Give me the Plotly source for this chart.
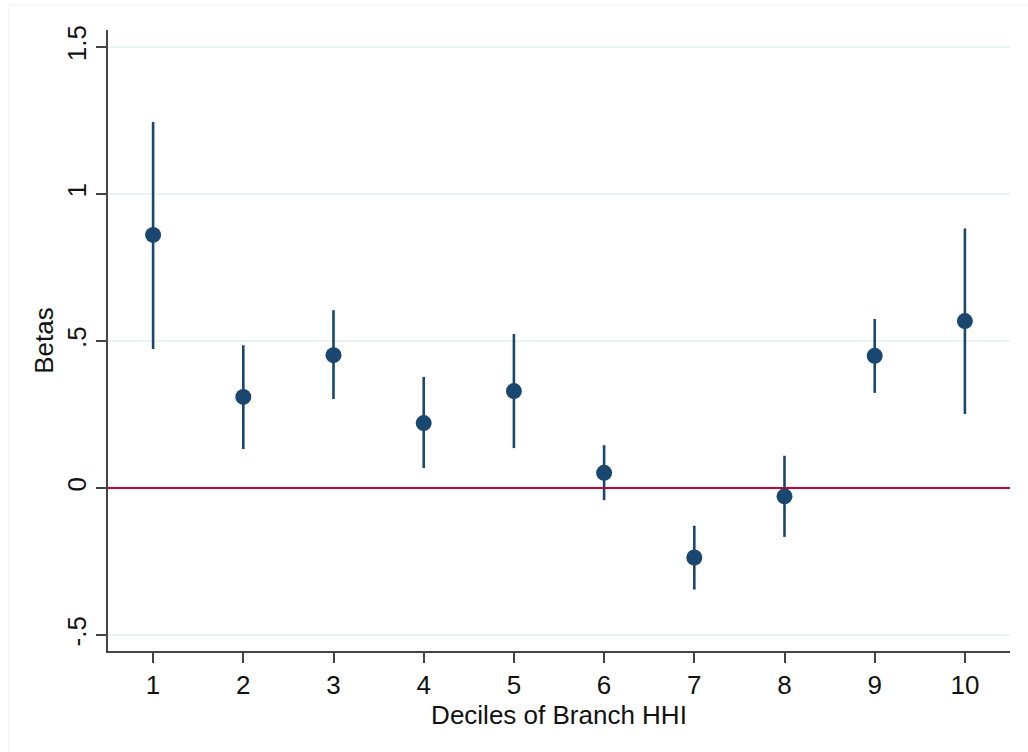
import plotly.graph_objects as go

deciles = [1, 2, 3, 4, 5, 6, 7, 8, 9, 10]
betas = [0.861, 0.310, 0.452, 0.221, 0.330, 0.052, -0.236, -0.028, 0.450, 0.568]
ci_upper = [1.245, 0.486, 0.605, 0.378, 0.524, 0.146, -0.128, 0.110, 0.575, 0.883]
ci_lower = [0.473, 0.133, 0.303, 0.068, 0.136, -0.041, -0.345, -0.166, 0.324, 0.252]

y_tickvals = [-0.5, 0, 0.5, 1, 1.5]
y_ticktext = ["-.5", "0", ".5", "1", "1.5"]

navy = "#1a476f"
font = "Liberation Sans, Arial, sans-serif"
fs = 26

fig = go.Figure()

# CI lines
ci_x, ci_y = [], []
for d, lo, hi in zip(deciles, ci_lower, ci_upper):
    ci_x += [d, d, None]
    ci_y += [lo, hi, None]
fig.add_trace(go.Scatter(x=ci_x, y=ci_y, mode="lines",
                         line=dict(color=navy, width=2.6), showlegend=False,
                         hoverinfo="skip"))

# zero line
fig.add_trace(go.Scatter(x=[0.5, 10.5], y=[0, 0], mode="lines",
                         line=dict(color="#c10534", width=2), showlegend=False,
                         hoverinfo="skip"))

fig.add_trace(go.Scatter(x=deciles, y=betas, mode="markers",
                         marker=dict(color=navy, size=16, line=dict(width=0)),
                         showlegend=False))

fig.update_layout(
    width=1028, height=752,
    margin=dict(l=108, r=18, t=30, b=101),
    paper_bgcolor="white", plot_bgcolor="white",
    font=dict(family=font, size=fs, color="#111"),
    xaxis=dict(range=[0.5, 10.5], tickvals=deciles, ticks="outside", ticklen=10,
               tickwidth=2, tickcolor="#444", showline=True, linecolor="#444",
               linewidth=2, showgrid=False, zeroline=False,
               tickfont=dict(size=fs, family=font, color="#111"),
               title=dict(text="Deciles of Branch HHI", standoff=0,
                          font=dict(size=fs, family=font, color="#111"))),
    yaxis=dict(range=[-0.554, 1.558], tickvals=y_tickvals, ticktext=y_ticktext,
               tickangle=-90, ticks="outside", ticklen=10, tickwidth=2,
               tickcolor="#444", showline=True, linecolor="#444", linewidth=2,
               showgrid=True, gridcolor="#eaf2f3", gridwidth=2, zeroline=False,
               tickfont=dict(size=fs, family=font, color="#111"),
               title=dict(text="Betas", standoff=0,
                          font=dict(size=fs, family=font, color="#111"))),
    shapes=[
        dict(type="line", xref="paper", yref="paper", x0=-0.11, x1=1.02,
             y0=1.04, y1=1.04, line=dict(color="#f2f2f2", width=1)),
        dict(type="line", xref="paper", yref="paper", x0=-0.110, x1=-0.110,
             y0=-0.165, y1=1.04, line=dict(color="#f2f2f2", width=1)),
    ],
)

fig.write_html("out.html")
